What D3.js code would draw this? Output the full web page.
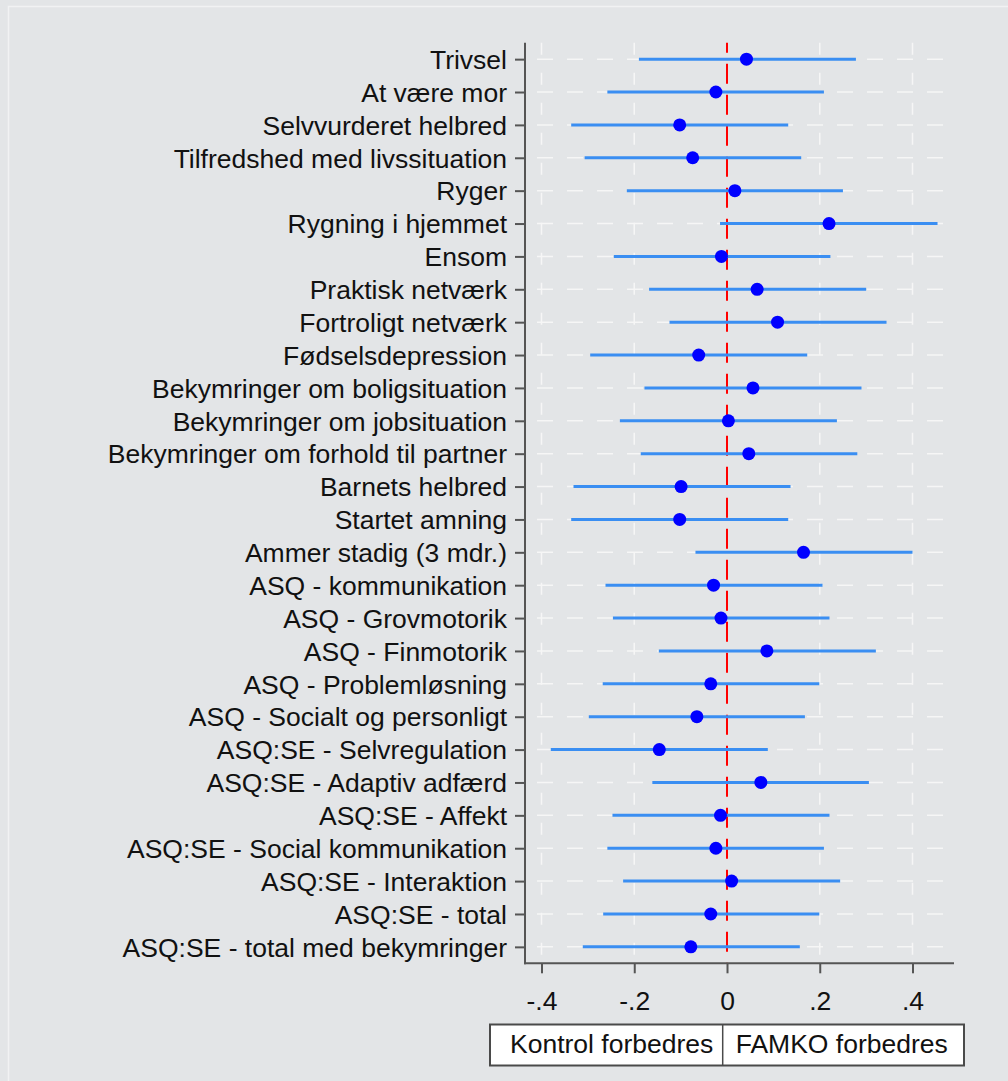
<!DOCTYPE html>
<html>
<head>
<meta charset="utf-8">
<script src="https://cdn.jsdelivr.net/npm/d3@7"></script>
<style>
  html, body { margin: 0; padding: 0; background: #e3e5e7; }
  svg { display: block; font-family: "Liberation Sans", Arial, sans-serif; }
</style>
</head>
<body>
<div id="chart"></div>
<script>
// outcomes, top to bottom
const labels = [
    "Trivsel", "At være mor", "Selvvurderet helbred", "Tilfredshed med livssituation",
    "Ryger", "Rygning i hjemmet", "Ensom", "Praktisk netværk", "Fortroligt netværk",
    "Fødselsdepression", "Bekymringer om boligsituation", "Bekymringer om jobsituation",
    "Bekymringer om forhold til partner", "Barnets helbred", "Startet amning",
    "Ammer stadig (3 mdr.)", "ASQ - kommunikation", "ASQ - Grovmotorik", "ASQ - Finmotorik",
    "ASQ - Problemløsning", "ASQ - Socialt og personligt", "ASQ:SE - Selvregulation",
    "ASQ:SE - Adaptiv adfærd", "ASQ:SE - Affekt", "ASQ:SE - Social kommunikation",
    "ASQ:SE - Interaktion", "ASQ:SE - total", "ASQ:SE - total med bekymringer"
];
const estimates = [
    0.042, -0.024, -0.102, -0.074, 0.017, 0.220, -0.012, 0.065, 0.109, -0.061,
    0.056, 0.003, 0.047, -0.099, -0.102, 0.165, -0.029, -0.013, 0.086, -0.035,
    -0.065, -0.146, 0.073, -0.014, -0.024, 0.010, -0.035, -0.078
];
const lower = [
    -0.190, -0.258, -0.336, -0.307, -0.216, -0.015, -0.244, -0.168, -0.124, -0.295,
    -0.178, -0.231, -0.186, -0.331, -0.336, -0.068, -0.262, -0.246, -0.147, -0.268,
    -0.298, -0.380, -0.161, -0.247, -0.258, -0.224, -0.267, -0.311
];
const upper = [
    0.278, 0.209, 0.132, 0.160, 0.250, 0.454, 0.223, 0.300, 0.344, 0.173,
    0.290, 0.237, 0.281, 0.137, 0.132, 0.400, 0.206, 0.221, 0.321, 0.199,
    0.168, 0.088, 0.306, 0.221, 0.209, 0.244, 0.199, 0.157
];
const xTicks = [-0.4, -0.2, 0, 0.2, 0.4];
const xTickLabels = ["-.4", "-.2", "0", ".2", ".4"];
const legendLabels = ["Kontrol forbedres", "FAMKO forbedres"];

const W = 1008, H = 1081;
const plot = { left: 525, right: 954, top: 42.7, bottom: 963.3 };
const FONT = "26.5px";

const svg = d3.select("#chart")
    .append("svg")
    .attr("width", W)
    .attr("height", H);

svg.append("rect").attr("width", W).attr("height", H).attr("fill", "#e3e5e7");
// faint outer frame
svg.append("path")
    .attr("d", `M8.5,${H} V6.5 H${W}`)
    .attr("fill", "none")
    .attr("stroke", "#f1f2f3")
    .attr("stroke-width", 1.5);

const x = d3.scaleLinear()
    .domain([-0.4356, 0.4895])
    .range([plot.left, plot.right]);

const y = d3.scalePoint()
    .domain(labels)
    .range([plot.top, plot.bottom])
    .padding(0.5);

// grid
svg.append("g")
    .selectAll("line")
    .data(labels)
    .enter()
    .append("line")
    .attr("x1", plot.left).attr("x2", plot.right)
    .attr("y1", d => y(d)).attr("y2", d => y(d))
    .attr("stroke", "#f6f6f6")
    .attr("stroke-width", 1.5)
    .attr("stroke-dasharray", "16,14")
    .attr("stroke-dashoffset", -12);

svg.append("g")
    .selectAll("line")
    .data(xTicks.filter(t => t !== 0))
    .enter()
    .append("line")
    .attr("x1", d => x(d)).attr("x2", d => x(d))
    .attr("y1", plot.top).attr("y2", plot.bottom)
    .attr("stroke", "#f6f6f6")
    .attr("stroke-width", 1.5)
    .attr("stroke-dasharray", "12,18");

// reference line at zero
svg.append("line")
    .attr("x1", x(0)).attr("x2", x(0))
    .attr("y1", plot.top).attr("y2", plot.bottom)
    .attr("stroke", "#ff0000")
    .attr("stroke-width", 2)
    .attr("stroke-dasharray", "20,11")
    .attr("stroke-dashoffset", 10);

// confidence intervals
const rows = labels.map((d, i) => ({ name: d, est: estimates[i], lo: lower[i], hi: upper[i] }));

svg.append("g")
    .selectAll("line")
    .data(rows)
    .enter()
    .append("line")
    .attr("x1", d => x(d.lo)).attr("x2", d => x(d.hi))
    .attr("y1", d => y(d.name)).attr("y2", d => y(d.name))
    .attr("stroke", "#3a8ef2")
    .attr("stroke-width", 3);

svg.append("g")
    .selectAll("circle")
    .data(rows)
    .enter()
    .append("circle")
    .attr("cx", d => x(d.est))
    .attr("cy", d => y(d.name))
    .attr("r", 6.5)
    .attr("fill", "#0000ff");

// axes
const yAxis = svg.append("g")
    .attr("transform", `translate(${plot.left},0)`)
    .call(d3.axisLeft(y).tickSize(10).tickPadding(8).tickSizeOuter(0));
yAxis.select("path.domain").remove();
yAxis.append("line")
    .attr("y1", plot.top).attr("y2", plot.bottom + 1)
    .attr("stroke", "#555").attr("stroke-width", 2);
yAxis.selectAll(".tick line").attr("stroke", "#555").attr("stroke-width", 2);
yAxis.selectAll(".tick text")
    .attr("fill", "#111")
    .attr("dy", "0.35em")
    .style("font-size", FONT);

const xAxis = svg.append("g")
    .attr("transform", `translate(0,${plot.bottom})`)
    .call(d3.axisBottom(x)
        .tickValues(xTicks)
        .tickFormat((t, i) => xTickLabels[i])
        .tickSize(10)
        .tickPadding(18)
        .tickSizeOuter(0));
xAxis.select("path.domain").remove();
xAxis.append("line")
    .attr("x1", plot.left - 1).attr("x2", plot.right)
    .attr("stroke", "#555").attr("stroke-width", 2);
xAxis.selectAll(".tick line").attr("stroke", "#555").attr("stroke-width", 2);
xAxis.selectAll(".tick text")
    .attr("fill", "#111")
    .style("font-size", FONT);

// legend
const legend = { left: 490, right: 964, top: 1024.5, bottom: 1065.5, split: 722.7 };
const lg = svg.append("g");
lg.append("rect")
    .attr("x", legend.left).attr("y", legend.top)
    .attr("width", legend.right - legend.left)
    .attr("height", legend.bottom - legend.top)
    .attr("fill", "#fff")
    .attr("stroke", "#4a4a4a")
    .attr("stroke-width", 2);
lg.append("line")
    .attr("x1", legend.split).attr("x2", legend.split)
    .attr("y1", legend.top).attr("y2", legend.bottom)
    .attr("stroke", "#4a4a4a")
    .attr("stroke-width", 1.5);
lg.selectAll("text")
    .data(legendLabels)
    .enter()
    .append("text")
    .attr("x", (d, i) => i === 0 ? legend.left + 20 : legend.split + 13)
    .attr("y", 1053)
    .attr("fill", "#111")
    .style("font-size", FONT)
    .text(d => d);
</script>
</body>
</html>
